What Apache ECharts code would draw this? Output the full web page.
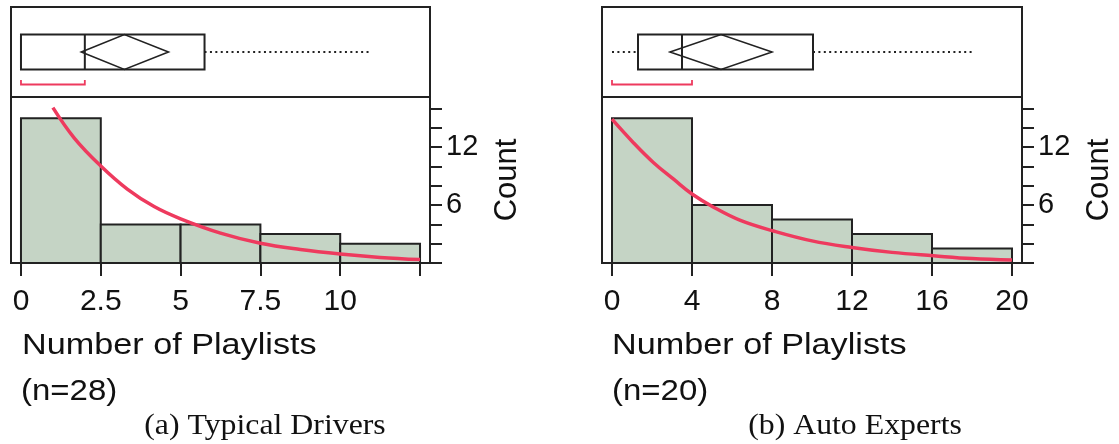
<!DOCTYPE html>
<html>
<head>
<meta charset="utf-8">
<script src="https://cdn.jsdelivr.net/npm/echarts@6.0.0/dist/echarts.min.js"></script>
<style>
  html, body { margin: 0; padding: 0; background: #fff; }
  #chart { width: 1119px; height: 444px; }
</style>
</head>
<body>
<div id="chart"></div>
<script>
// (a) typical drivers
var leftBinEdges = [0, 2.5, 5, 7.5, 10, 12.5];
var leftCounts = [15, 4, 4, 3, 2];
var leftFit = [[1, 16.1], [1.67, 12.95], [2.5, 10.05], [3.33, 7.66], [4.17, 5.85], [5, 4.58],
               [6.25, 3.1], [7.5, 2.05], [8.75, 1.4], [10, 0.93], [11.25, 0.58], [12.5, 0.35]];
// q1, median, q3, whisker low, whisker high
var leftQuantiles = [0, 2, 5.75, 0, 10.9];
// mean diamond: low, mean, high
var leftMeanDiamond = [1.89, 3.24, 4.62];
var leftShortestHalf = [0, 2];
var leftTicks = [0, 2.5, 5, 7.5, 10, 12.5];
var leftTickLabels = [0, 2.5, 5, 7.5, 10];

// (b) auto experts
var rightBinEdges = [0, 4, 8, 12, 16, 20];
var rightCounts = [15, 6, 4.5, 3, 1.5];
var rightFit = [[0, 14.9], [1.08, 12.44], [2.08, 10.39], [3.08, 8.68], [4, 7.15], [5.08, 5.78],
                [6.42, 4.41], [8.08, 3.31], [10, 2.29], [12, 1.61], [14, 1.1], [16.08, 0.75],
                [18, 0.46], [20, 0.3]];
var rightQuantiles = [1.3, 3.5, 10.05, 0, 18];
var rightMeanDiamond = [2.9, 5.45, 8.0];
var rightShortestHalf = [0, 4];
var rightTicks = [0, 4, 8, 12, 16, 20];
var rightTickLabels = [0, 4, 8, 12, 16, 20];

var countTicks = [0, 2, 4, 6, 8, 10, 12, 14, 16];
var countTickLabels = [6, 12];

var xTitle = 'Number of Playlists';
var leftN = '(n=28)';
var rightN = '(n=20)';
var leftCaption = '(a) Typical Drivers';
var rightCaption = '(b) Auto Experts';

var INK = '#222';
var FIT_RED = '#ee3a5e';
var BAR_FILL = '#c5d4c5';
var SANS = '"Liberation Sans", Arial, sans-serif';
var SERIF = '"Liberation Serif", "Times New Roman", serif';

function toBins(edges, counts) {
    var out = [];
    for (var i = 0; i < counts.length; i++) {
        out.push([edges[i], edges[i + 1], counts[i]]);
    }
    return out;
}

function renderBar(params, api) {
    var p0 = api.coord([api.value(0), api.value(2)]);
    var p1 = api.coord([api.value(1), 0]);
    return {
        type: 'rect',
        shape: { x: p0[0], y: p0[1], width: p1[0] - p0[0], height: p1[1] - p0[1] },
        style: { fill: BAR_FILL, stroke: INK, lineWidth: 2 }
    };
}

function renderBox(params, api) {
    var X = function (v) { return api.coord([v, 0.5])[0]; };
    var cy = api.coord([0, 0.5])[1];
    var h = 17.5;
    var q1 = api.value(0), med = api.value(1), q3 = api.value(2);
    var lo = api.value(3), hi = api.value(4);
    var mLo = api.value(5), m = api.value(6), mHi = api.value(7);
    var sLo = api.value(8), sHi = api.value(9);
    var dotted = { stroke: '#222', lineWidth: 2, lineDash: [2, 3.4] };
    var solid = { stroke: INK, lineWidth: 2, fill: null };
    var kids = [];
    if (lo < q1) {
        kids.push({ type: 'line', shape: { x1: X(lo), y1: cy, x2: X(q1), y2: cy }, style: dotted });
    }
    if (hi > q3) {
        kids.push({ type: 'line', shape: { x1: X(q3), y1: cy, x2: X(hi), y2: cy }, style: dotted });
    }
    kids.push({ type: 'rect', shape: { x: X(q1), y: cy - h, width: X(q3) - X(q1), height: 2 * h }, style: solid });
    kids.push({ type: 'line', shape: { x1: X(med), y1: cy - h, x2: X(med), y2: cy + h }, style: solid });
    kids.push({
        type: 'polygon',
        shape: { points: [[X(mLo), cy], [X(m), cy - h], [X(mHi), cy], [X(m), cy + h]] },
        style: { stroke: INK, lineWidth: 1.6, fill: null }
    });
    kids.push({
        type: 'polyline',
        shape: { points: [[X(sLo), cy + 28], [X(sLo), cy + 32.5], [X(sHi), cy + 32.5], [X(sHi), cy + 28]] },
        style: { stroke: FIT_RED, lineWidth: 1.8, fill: null }
    });
    return { type: 'group', children: kids };
}

function boxRow(quant, diamond, shortest) {
    return [quant[0], quant[1], quant[2], quant[3], quant[4],
            diamond[0], diamond[1], diamond[2], shortest[0], shortest[1]];
}

function histXAxis(grid, min, max, ticks, labels) {
    return {
        gridIndex: grid, type: 'value', min: min, max: max,
        splitLine: { show: false },
        axisLine: { show: true, onZero: false, lineStyle: { color: INK, width: 2 } },
        axisTick: { show: true, customValues: ticks, length: 13, lineStyle: { color: INK, width: 2 } },
        axisLabel: { customValues: labels, margin: 24, fontSize: 30, color: '#111', fontFamily: SANS }
    };
}

function countAxis(grid) {
    return {
        gridIndex: grid, type: 'value', position: 'right', min: 0, max: 17.2,
        splitLine: { show: false },
        axisLine: { show: true, onZero: false, lineStyle: { color: INK, width: 2 } },
        axisTick: { show: true, customValues: countTicks, length: 12, lineStyle: { color: INK, width: 2 } },
        axisLabel: { customValues: countTickLabels, margin: 16, fontSize: 29, color: '#111', fontFamily: SANS },
        name: 'Count', nameLocation: 'middle', nameRotate: 90, nameGap: 62,
        nameTextStyle: { fontSize: 31, color: '#111', fontFamily: SANS }
    };
}

function hiddenX(grid, min, max) {
    return { gridIndex: grid, type: 'value', min: min, max: max, show: false };
}
function hiddenY(grid) {
    return { gridIndex: grid, type: 'value', min: 0, max: 1, show: false };
}

function label(text, x, y, font, align, sx) {
    return {
        type: 'text', x: x, y: y, scaleX: sx,
        style: { text: text, font: font, fill: '#111', align: align, verticalAlign: 'middle' }
    };
}

var frame = { show: true, borderColor: INK, borderWidth: 2, backgroundColor: 'transparent' };

var chart = echarts.init(document.getElementById('chart'), null, { renderer: 'canvas' });
var option = {
    animation: false,
    backgroundColor: '#fff',
    grid: [
        Object.assign({ left: 11, top: 7, width: 419, height: 90 }, frame),
        Object.assign({ left: 11, top: 97, width: 419, height: 166 }, frame),
        Object.assign({ left: 602, top: 7, width: 420, height: 90 }, frame),
        Object.assign({ left: 602, top: 97, width: 420, height: 166 }, frame)
    ],
    xAxis: [
        hiddenX(0, -0.3125, 12.8125),
        histXAxis(1, -0.3125, 12.8125, leftTicks, leftTickLabels),
        hiddenX(2, -0.5, 20.5),
        histXAxis(3, -0.5, 20.5, rightTicks, rightTickLabels)
    ],
    yAxis: [hiddenY(0), countAxis(1), hiddenY(2), countAxis(3)],
    series: [
        {
            type: 'custom', xAxisIndex: 0, yAxisIndex: 0, renderItem: renderBox,
            data: [boxRow(leftQuantiles, leftMeanDiamond, leftShortestHalf)]
        },
        {
            type: 'custom', xAxisIndex: 1, yAxisIndex: 1, renderItem: renderBar,
            data: toBins(leftBinEdges, leftCounts)
        },
        {
            type: 'line', xAxisIndex: 1, yAxisIndex: 1, data: leftFit, smooth: 0.4,
            showSymbol: false, lineStyle: { color: FIT_RED, width: 3.5 }, z: 5
        },
        {
            type: 'custom', xAxisIndex: 2, yAxisIndex: 2, renderItem: renderBox,
            data: [boxRow(rightQuantiles, rightMeanDiamond, rightShortestHalf)]
        },
        {
            type: 'custom', xAxisIndex: 3, yAxisIndex: 3, renderItem: renderBar,
            data: toBins(rightBinEdges, rightCounts)
        },
        {
            type: 'line', xAxisIndex: 3, yAxisIndex: 3, data: rightFit, smooth: 0.4,
            showSymbol: false, lineStyle: { color: FIT_RED, width: 3.5 }, z: 5
        }
    ],
    graphic: [
        label(xTitle, 22, 346, '30px ' + SANS, 'left', 1.14),
        label(leftN, 21, 392, '30px ' + SANS, 'left', 1.1),
        label(leftCaption, 265, 426, '30px ' + SERIF, 'center', 1.06),
        label(xTitle, 612, 346, '30px ' + SANS, 'left', 1.14),
        label(rightN, 612, 392, '30px ' + SANS, 'left', 1.1),
        label(rightCaption, 855, 426, '30px ' + SERIF, 'center', 1.06)
    ]
};
chart.setOption(option);
</script>
</body>
</html>
